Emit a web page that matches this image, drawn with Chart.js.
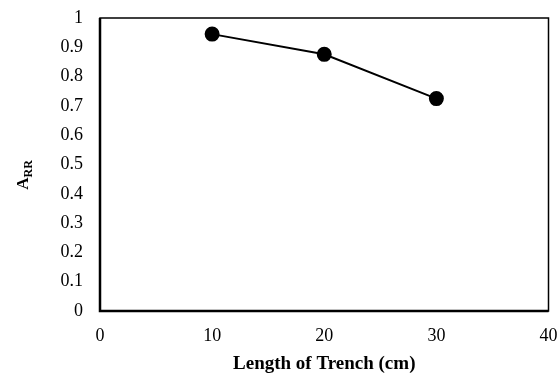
<!DOCTYPE html>
<html>
<head>
<meta charset="utf-8">
<script src="https://cdn.jsdelivr.net/npm/chart.js@4.4.1/dist/chart.umd.min.js"></script>
<style>
  html, body { margin: 0; padding: 0; background: #fff; }
  #wrap { width: 557px; height: 375px; }
</style>
</head>
<body>
<div id="wrap"><canvas id="chart"></canvas></div>
<script>
// trench length (cm) vs A_RR
const trenchLength = [10, 20, 30];
const arrValues = [0.945, 0.876, 0.725];
const xTicks = [0, 10, 20, 30, 40];
const yTicks = [0, 0.1, 0.2, 0.3, 0.4, 0.5, 0.6, 0.7, 0.8, 0.9, 1];

const serif = '"Liberation Serif", "Times New Roman", serif';

// frame + axis titles (A with subscript RR)
const framePlugin = {
    id: 'frame',
    afterDraw(chart) {
        const { ctx, chartArea: a } = chart;
        ctx.save();
        ctx.strokeStyle = '#000';
        ctx.lineWidth = 1.5;
        ctx.strokeRect(a.left, a.top, a.right - a.left, a.bottom - a.top);
        ctx.lineWidth = 2.5;
        ctx.beginPath();
        ctx.moveTo(a.left, a.top);
        ctx.lineTo(a.left, a.bottom);
        ctx.lineTo(a.right, a.bottom);
        ctx.stroke();

        ctx.fillStyle = '#000';
        ctx.font = 'bold 19px ' + serif;
        ctx.textAlign = 'center';
        ctx.textBaseline = 'middle';
        ctx.fillText('Length of Trench (cm)', (a.left + a.right) / 2, 364);

        ctx.translate(28, 175);
        ctx.rotate(-Math.PI / 2);
        ctx.textAlign = 'left';
        ctx.textBaseline = 'alphabetic';
        ctx.font = 'bold 17px ' + serif;
        const wA = ctx.measureText('A').width;
        ctx.font = 'bold 12px ' + serif;
        const wR = ctx.measureText('RR').width;
        const x0 = -(wA + wR) / 2;
        ctx.font = 'bold 17px ' + serif;
        ctx.fillText('A', x0, 0);
        ctx.font = 'bold 12px ' + serif;
        ctx.fillText('RR', x0 + wA, 4);
        ctx.restore();
    }
};

new Chart(document.getElementById('chart'), {
    type: 'scatter',
    data: {
        datasets: [{
            data: trenchLength.map((x, i) => ({ x, y: arrValues[i] })),
            showLine: true,
            borderColor: '#000',
            backgroundColor: '#000',
            borderWidth: 2,
            pointRadius: 6.5,
            pointHoverRadius: 6.5
        }]
    },
    options: {
        responsive: true,
        maintainAspectRatio: false,
        animation: false,
        layout: { padding: { top: 18, right: 7, left: 0, bottom: 0 } },
        plugins: { legend: { display: false }, tooltip: { enabled: false } },
        scales: {
            x: {
                type: 'linear',
                min: 0, max: 40,
                afterBuildTicks: s => { s.ticks = xTicks.map(v => ({ value: v })); },
                afterFit: s => { s.height = 64; s.paddingLeft = 0; s.paddingRight = 0; },
                grid: { display: false, drawTicks: false },
                border: { display: false },
                ticks: { color: '#000', padding: 14, font: { family: serif, size: 18 } }
            },
            y: {
                min: 0, max: 1,
                afterBuildTicks: s => { s.ticks = yTicks.map(v => ({ value: v })); },
                afterFit: s => { s.width = 100; s.paddingTop = 0; s.paddingBottom = 0; },
                grid: { display: false, drawTicks: false },
                border: { display: false },
                ticks: {
                    color: '#000', padding: 17, font: { family: serif, size: 18 },
                    callback: v => String(Math.round(v * 10) / 10)
                }
            }
        }
    },
    plugins: [framePlugin]
});
</script>
</body>
</html>
